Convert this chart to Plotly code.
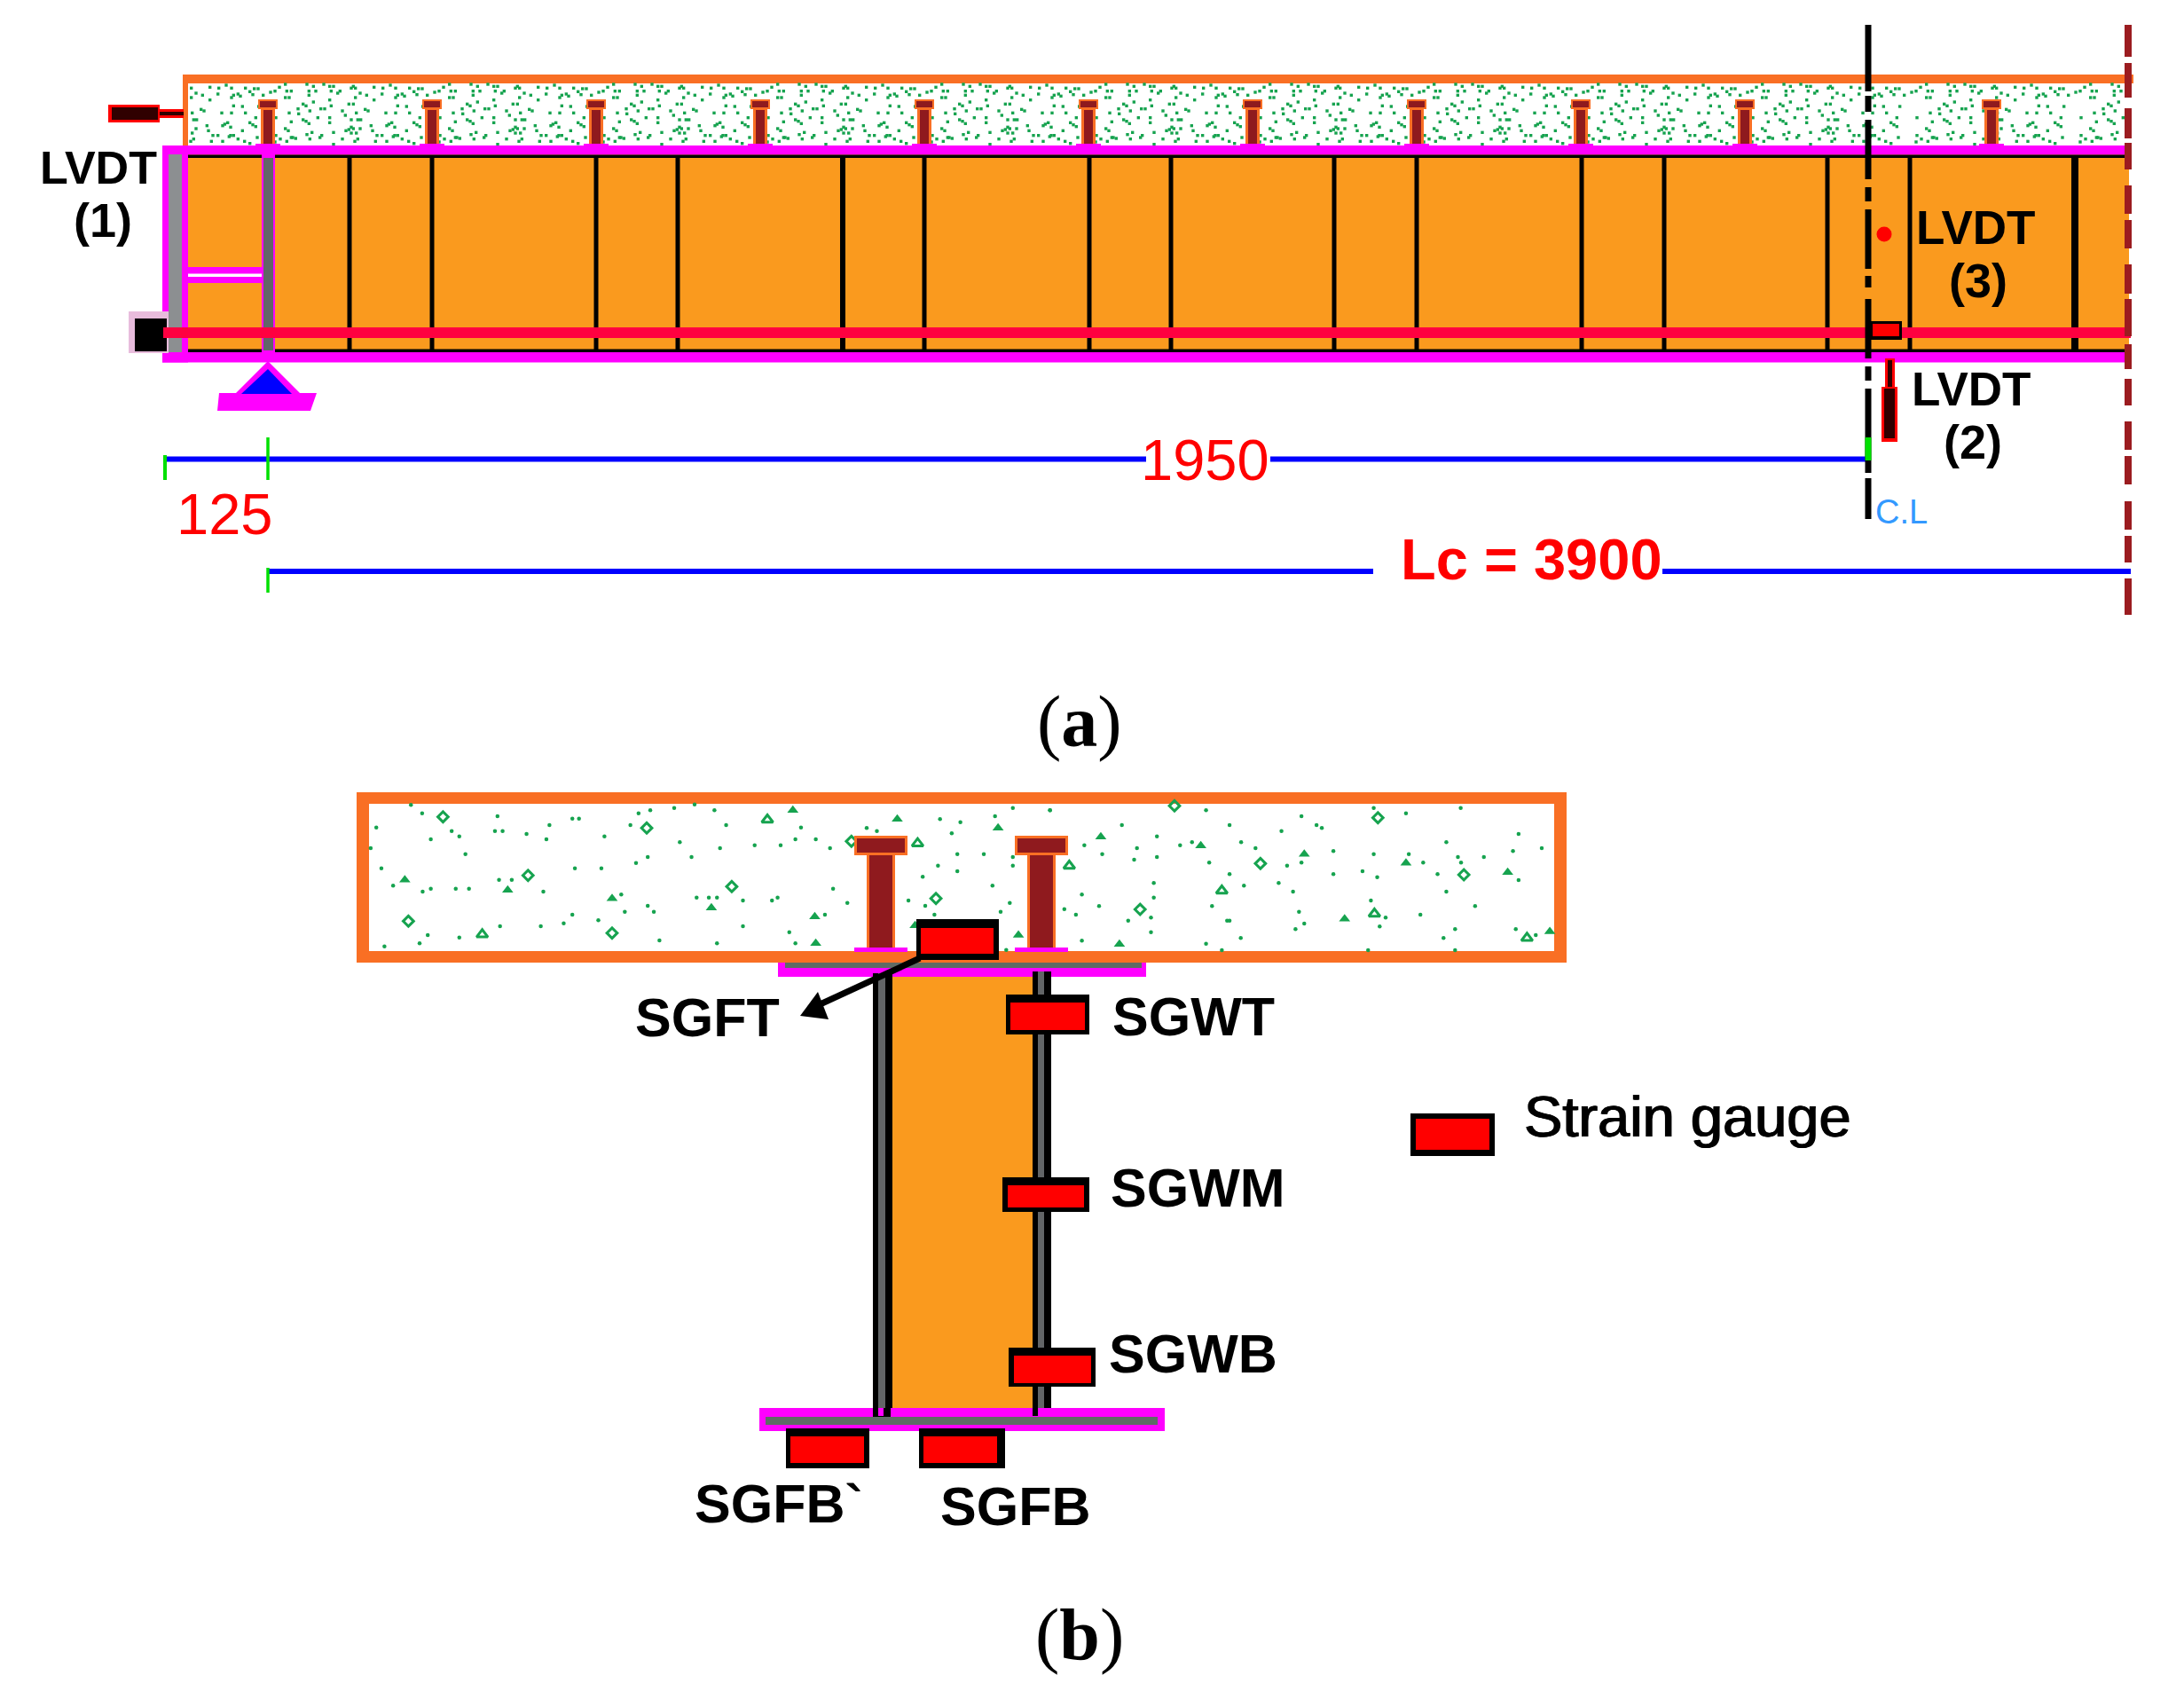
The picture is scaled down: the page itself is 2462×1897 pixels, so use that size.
import numpy as np
import plotly.graph_objects as go

W = 2462
H = 1897

ORANGE = "#FA9A1E"
SLAB = "#F96F24"
MAGENTA = "#FF00FF"
DARKRED = "#8F1A1E"
GREEN = "#16A34F"
GRAY = "#5F6B66"
REBAR = "#FF0040"
BLUE = "#0000FF"
LIME = "#00E000"
RED = "#FF0000"

# (a) elevation
stud_a = [302, 487, 672, 857, 1042, 1227, 1412, 1597, 1782, 1967, 2245]
stiff_a = [394, 487, 672, 764, 950, 1042, 1228, 1320, 1504, 1597, 1783, 1876, 2060, 2153, 2339]
stiff_w = [5, 5, 5, 5, 6, 5, 5, 5, 5, 5, 5, 5, 5, 5, 8]
cl_dash_top = [28, 108, 135, 211, 236, 311, 337, 413, 438, 539]
cl_dash_bot = [103, 126, 202, 227, 303, 324, 404, 429, 533, 585]
end_dash_top = [28, 71, 122, 161, 209, 248, 298, 337, 388, 427, 475, 514, 565, 604, 652]
end_dash_bot = [64, 110, 156, 191, 241, 280, 331, 379, 416, 457, 507, 546, 597, 634, 693]

tile_x = [15, 35, 40, 55, 35, 48, 108, 130, 115, 138, 115, 165, 185, 198, 190, 220, 212, 265, 258, 272,
          335, 365, 362, 390, 408, 415, 430, 408, 438, 455, 470, 485, 498, 480, 540, 555, 515, 288, 310, 272,
          335, 130, 185, 250, 265, 95, 105, 78, 80, 48, 118, 155, 168, 190, 228, 238, 275, 305, 315, 375,
          408, 415, 445, 455, 500, 3, 145, 185, 185, 258, 280, 290, 55, 95, 105, 115, 490, 470, 480, 490,
          385, 395, 378, 405, 325, 258, 240, 250, 265, 288, 35, 45, 330, 445, 125, 108, 258, 275, 198, 345,
          362, 405, 415, 400, 55, 70, 60, 158, 152, 118, 3, 18, 40, 228, 270, 280, 340, 378, 430, 452,
          470, 495, 198, 555]
tile_y = [25, 15, 38, 38, 60, 60, 15, 22, 38, 38, 52, 15, 22, 22, 38, 38, 45, 22, 28, 28,
          25, 28, 48, 18, 28, 52, 48, 60, 55, 28, 40, 30, 30, 50, 42, 38, 52, 45, 52, 60,
          68, 75, 68, 82, 82, 82, 88, 98, 115, 112, 105, 98, 98, 88, 105, 120, 112, 100, 105, 112,
          112, 88, 90, 112, 90, 128, 128, 128, 145, 135, 135, 135, 142, 135, 140, 148, 128, 145, 152, 158,
          150, 145, 155, 160, 155, 160, 172, 168, 165, 165, 165, 172, 172, 172, 178, 185, 180, 180, 178, 188,
          188, 188, 188, 192, 195, 198, 195, 188, 195, 200, 188, 200, 208, 200, 208, 200, 208, 208, 200, 208,
          215, 195, 218, 210]

dots_left_x = [145, 167, 315, 77, 310, 325, 225, 240, 372, 417, 411, 184, 66, 252, 462, 475, 592, 615, 662, 702,
               741, 576, 525, 673, 764, 911, 752, 820, 871, 900, 940, 968, 696, 610, 587, 467, 519, 87, 110, 168,
               184, 233, 259, 318, 343, 405, 558, 706, 730, 746, 797, 854, 865, 974, 1002, 565, 610, 622, 462, 513,
               445, 400, 320, 797, 888, 958, 900, 746, 633, 240, 178, 162, 93, 1040, 1060, 1184, 1224, 1292, 1327, 1400,
               1207, 1218, 1270, 1180, 1218, 1150, 1287, 1122, 1155, 1321, 1303, 1173, 1327, 1327, 1314]
dots_left_y = [82, 110, 120, 158, 170, 170, 170, 188, 180, 150, 198, 198, 228, 248, 128, 128, 110, 100, 92, 80,
               100, 150, 188, 208, 150, 158, 228, 218, 218, 198, 198, 228, 258, 258, 278, 296, 296, 296, 355, 375,
               365, 365, 365, 335, 335, 375, 385, 395, 395, 395, 405, 405, 395, 365, 413, 443, 423, 443, 453, 472,
               482, 492, 492, 492, 512, 453, 550, 550, 540, 530, 522, 550, 560, 160, 170, 130, 140, 120, 92, 100,
               178, 248, 248, 287, 306, 325, 355, 405, 423, 413, 443, 453, 258, 287, 572]
dots_right_x = [85, 530, 802, 1008, 1100, 1256, 290, 597, 745, 845, 860, 1421, 183, 390, 456, 490, 630, 333, 671, 1215,
                1487, 234, 325, 390, 893, 1008, 1108, 1405, 1248, 1322, 1257, 1149, 539, 761, 802, 597, 893, 976, 1018, 1190,
                1421, 381, 638, 737, 778, 1215, 176, 381, 1000, 225, 547, 1297, 126, 159, 795, 1141, 308, 373, 590, 597,
                810, 1042, 1025, 785, 1240, 1413, 373, 629, 1207, 176, 530, 1470, 992, 1240, 575]
dots_right_y = [70, 70, 90, 62, 80, 62, 120, 120, 140, 120, 130, 150, 188, 158, 188, 178, 178, 198, 198, 178,
                198, 218, 237, 228, 208, 218, 218, 208, 228, 228, 247, 247, 247, 257, 247, 286, 286, 276, 296, 286,
                306, 316, 325, 316, 345, 345, 355, 365, 375, 394, 394, 394, 404, 423, 413, 423, 443, 433, 443, 443,
                453, 433, 463, 472, 472, 472, 482, 502, 502, 511, 521, 492, 543, 543, 543]
ring_left_x = [208, 608, 1010, 375, 775, 1176, 140, 540]
ring_left_y = [122, 160, 205, 320, 358, 398, 475, 515]
tri_left_x = [845, 1140, 285]
tri_left_y = [132, 212, 520]
solid_left_x = [895, 1100, 1298, 133, 335, 540, 735, 938, 940, 1135, 1338]
solid_left_y = [100, 130, 160, 335, 370, 398, 430, 460, 550, 490, 522]
ring_right_x = [440, 1020, 685, 1265, 342]
ring_right_y = [55, 95, 250, 288, 405]
tri_right_x = [140, 575, 1010, 1445]
tri_right_y = [258, 342, 420, 502]
solid_right_x = [230, 515, 810, 1100, 1390, 925, 1510, 283]
solid_right_y = [160, 190, 218, 248, 280, 437, 480, 523]

stud_b = [993, 1174]
gauge_outer_x0 = [1134, 1130, 1137, 886, 1036, 1590]
gauge_outer_x1 = [1228, 1228, 1235, 980, 1133, 1685]
gauge_outer_y0 = [1121, 1327, 1519, 1610, 1610, 1255]
gauge_outer_y1 = [1166, 1366, 1563, 1655, 1655, 1303]
gauge_inner_x0 = [1139, 1136, 1143, 891, 1041, 1596]
gauge_inner_x1 = [1223, 1222, 1230, 974, 1124, 1679]
gauge_inner_y0 = [1130, 1336, 1528, 1619, 1619, 1261]
gauge_inner_y1 = [1161, 1361, 1559, 1649, 1649, 1296]

labels_a = [("LVDT", 111, 189, 52), ("(1)", 116, 248, 54), ("LVDT", 2227, 256, 53), ("(3)", 2230, 316, 54),
            ("LVDT", 2222, 438, 53), ("(2)", 2224, 498, 54)]
labels_b = [("SGFT", 797, 1147), ("SGWT", 1345, 1146), ("SGWM", 1350, 1339), ("SGWB", 1345, 1526),
            ("SGFB`", 878, 1695), ("SGFB", 1144, 1698)]

fig = go.Figure()


def poly(xs, ys, color):
    fig.add_trace(go.Scatter(x=xs, y=ys, mode="lines", fill="toself", fillcolor=color,
                             line=dict(width=0, color=color), hoverinfo="skip"))


def rect(x0, x1, y0, y1, color):
    poly([x0, x1, x1, x0, x0], [y0, y0, y1, y1, y0], color)


def line(xs, ys, color, width):
    fig.add_trace(go.Scatter(x=xs, y=ys, mode="lines", line=dict(color=color, width=width), hoverinfo="skip"))


def dots(xs, ys, size, symbol="square", width=0):
    fig.add_trace(go.Scatter(x=xs, y=ys, mode="markers", hoverinfo="skip",
                             marker=dict(size=size, color=GREEN, symbol=symbol, line=dict(width=width, color=GREEN))))


# ---- (a) slab
rect(206, 2405, 84, 94, SLAB)
rect(206, 212, 84, 165, SLAB)
tx = np.concatenate([310 + np.array(tile_x) / 3 + 185 * i for i in range(-1, 12)])
ty = np.concatenate([90 + np.array(tile_y) / 3 for i in range(-1, 12)])
keep = (tx > 214) & (tx < 2394)
dots(tx[keep], ty[keep], 3.4)

for x in stud_a:
    rect(x - 11, x + 11, 112, 123, SLAB)
    rect(x - 9, x + 9, 114, 121, DARKRED)
    rect(x - 8, x + 8, 123, 162, SLAB)
    rect(x - 5, x + 5, 124, 162, DARKRED)
    rect(x - 14, x + 14, 162, 165, MAGENTA)

# ---- (a) steel girder
rect(212, 2400, 174, 397, ORANGE)
rect(183, 2398, 164, 174.5, MAGENTA)
rect(212, 2398, 174.5, 178, "black")
rect(212, 2398, 393.5, 397, "black")
rect(183, 2398, 397, 408.5, MAGENTA)
rect(183, 212, 164, 408.5, MAGENTA)
rect(190, 205, 174, 397, "#8C8F91")
rect(212, 298, 301, 319, MAGENTA)
rect(212, 297, 308.5, 312, "white")
rect(295, 310, 174, 397, MAGENTA)
rect(297, 308, 178, 395, "#626567")
for x, w in zip(stiff_a, stiff_w):
    rect(x - w / 2, x + w / 2, 178, 394, "black")
rect(145, 190, 351, 398, "#E8BCDC")
rect(152, 188, 359, 396, "black")
rect(184, 2402, 369, 381, REBAR)

# ---- (a) LVDT 1, support
rect(180, 207, 123, 133, RED)
rect(180, 207, 126, 130, "#300000")
rect(122, 180, 118, 138, RED)
rect(126, 178, 121, 135, "#300000")
poly([247, 357, 350, 245, 247], [443, 443, 463, 463, 443], MAGENTA)
poly([302, 340, 264, 302], [407, 445, 445, 407], MAGENTA)
poly([302, 329, 272, 302], [416, 444, 444, 416], BLUE)

# ---- (a) dimensions
line([186, 1292], [517.5, 517.5], BLUE, 6)
line([1432, 2106], [517.5, 517.5], BLUE, 6)
line([186, 186], [513, 541], LIME, 4)
line([302, 302], [493, 541], LIME, 3.5)
line([302, 1548], [644, 644], BLUE, 6)
line([1874, 2402], [644, 644], BLUE, 6)
line([302, 302], [640, 668], LIME, 3.5)

# ---- (a) center line, LVDT 2 and 3, end of half span
for y0, y1 in zip(cl_dash_top, cl_dash_bot):
    line([2106, 2106], [y0, y1], "black", 7)
line([2106, 2106], [493, 519], LIME, 7)
rect(2108, 2144, 362, 383, "black")
rect(2111, 2141, 365, 379, RED)
fig.add_trace(go.Scatter(x=[2124], y=[264], mode="markers", hoverinfo="skip",
                         marker=dict(size=17, color=RED)))
rect(2125, 2136, 404, 437, RED)
rect(2128, 2133, 406, 437, "#300000")
rect(2121, 2139, 436, 498, RED)
rect(2124, 2136, 438, 494, "#300000")
for y0, y1 in zip(end_dash_top, end_dash_bot):
    line([2399, 2399], [y0, y1], "#9B1C20", 8)

# ---- (b) slab
rect(402, 1766, 893, 1085, SLAB)
rect(416, 1752, 906, 1072, "white")
lx = 380 + np.array(dots_left_x) / 1.742
ly = 880 + np.array(dots_left_y) / 3
dots(lx, ly, 4.5, "circle")
rx = 1150 + np.array(dots_right_x) / 2.529
ry = 890 + np.array(dots_right_y) / 3
dots(rx, ry, 4.5, "circle")
dots(380 + np.array(ring_left_x) / 1.742, 880 + np.array(ring_left_y) / 3, 9, "diamond-open", 3)
dots(1150 + np.array(ring_right_x) / 2.529, 890 + np.array(ring_right_y) / 3, 9, "diamond-open", 3)
dots(380 + np.array(tri_left_x) / 1.742, 880 + np.array(tri_left_y) / 3, 11, "triangle-up-open", 3)
dots(1150 + np.array(tri_right_x) / 2.529, 890 + np.array(tri_right_y) / 3, 11, "triangle-up-open", 3)
dots(380 + np.array(solid_left_x) / 1.742, 880 + np.array(solid_left_y) / 3, 11, "triangle-up")
dots(1150 + np.array(solid_right_x) / 2.529, 890 + np.array(solid_right_y) / 3, 11, "triangle-up")

for x in stud_b:
    rect(x - 30, x + 30, 942, 964, SLAB)
    rect(x - 27, x + 27, 945, 961, DARKRED)
    rect(x - 16, x + 16, 964, 1070, SLAB)
    rect(x - 13, x + 13, 964, 1070, DARKRED)
    rect(x - 30, x + 30, 1068, 1073, MAGENTA)

# ---- (b) steel section
rect(877, 1292, 1085, 1101, MAGENTA)
rect(885, 1287, 1085, 1091, GRAY)
rect(1004, 1165, 1101, 1588, ORANGE)
rect(984, 1006, 1097, 1597, "black")
rect(990, 998, 1097, 1595, "#626567")
rect(1164, 1185, 1095, 1592, "black")
rect(1170, 1177, 1095, 1588, "#626567")
rect(856, 1313, 1587, 1613, MAGENTA)
rect(863, 1305, 1597, 1606, GRAY)
rect(984, 1004, 1587, 1597, "black")
rect(1164, 1170, 1587, 1596, "black")
rect(990, 996, 1587, 1596, MAGENTA)

# ---- (b) gauges, arrow
rect(1033, 1126, 1036, 1082, "black")
rect(1038, 1120, 1046, 1075, RED)
for i in range(len(gauge_outer_x0)):
    rect(gauge_outer_x0[i], gauge_outer_x1[i], gauge_outer_y0[i], gauge_outer_y1[i], "black")
    rect(gauge_inner_x0[i], gauge_inner_x1[i], gauge_inner_y0[i], gauge_inner_y1[i], RED)
line([1037, 918], [1080, 1135], "black", 7)
poly([902, 922, 934, 902], [1145, 1118, 1149, 1145], "black")

# ---- text
ann = []


def text(s, x, y, size, color="black", family="Liberation Sans", shadow=None):
    font = dict(family=family, size=size, color=color)
    if shadow:
        font["shadow"] = shadow
    ann.append(dict(text=s, x=x, y=y, xref="x", yref="y", showarrow=False, xanchor="center", yanchor="middle",
                    font=font))


for s, x, y, size in labels_a:
    text("<b>" + s + "</b>", x, y, size)
for s, x, y in labels_b:
    text("<b>" + s + "</b>", x, y, 61)
text("Strain gauge", 1902, 1258, 65, shadow="0.8px 0 0 black, -0.8px 0 0 black")
text("125", 253, 579, 65, RED)
text("1950", 1358, 518, 65, RED)
text("<b>Lc = 3900</b>", 1726, 630, 65, RED)
text("C.L", 2143, 577, 38, "#3399FF")
text("(<b>a</b>)", 1217, 813, 82, "black", "Liberation Serif")
text("(<b>b</b>)", 1217, 1842, 82, "black", "Liberation Serif")

fig.update_layout(
    width=W, height=H,
    margin=dict(l=0, r=0, t=0, b=0),
    paper_bgcolor="white", plot_bgcolor="white",
    showlegend=False,
    annotations=ann,
    xaxis=dict(range=[0, W], visible=False, fixedrange=True),
    yaxis=dict(range=[H, 0], visible=False, fixedrange=True),
)
fig.write_html("out.html", post_script="document.body.style.margin='0';", config=dict(displayModeBar=False))
